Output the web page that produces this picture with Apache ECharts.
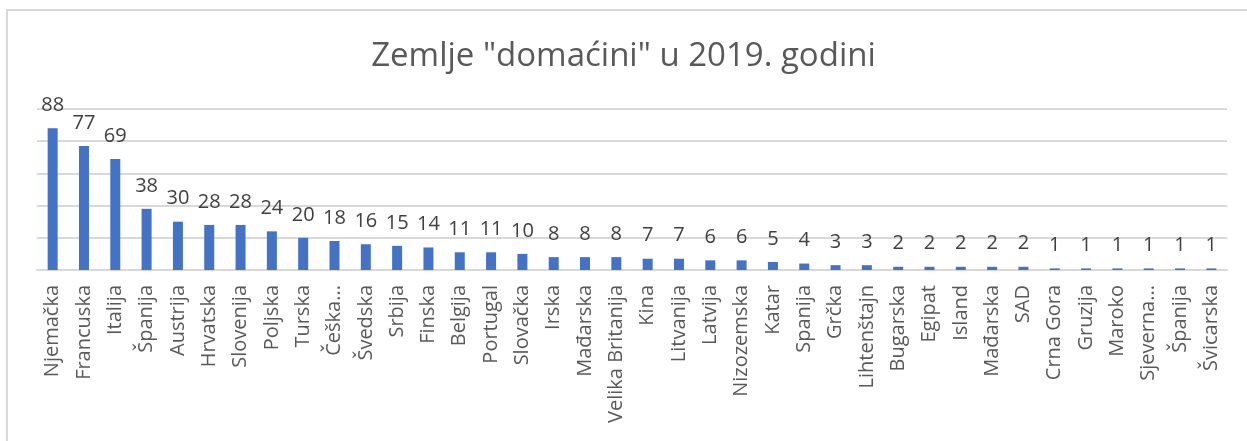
<!DOCTYPE html>
<html>
<head>
<meta charset="utf-8">
<script src="https://cdn.jsdelivr.net/npm/echarts@6/dist/echarts.min.js"></script>
<style>
  html, body { margin: 0; padding: 0; background: #fff; }
  #chart { width: 1247px; height: 441px; }
</style>
</head>
<body>
<div id="chart"></div>
<script>
const titleText = 'Zemlje "domaćini" u 2019. godini';
const countries = [
  "Njemačka", "Francuska", "Italija", "Španija", "Austrija", "Hrvatska", "Slovenija",
  "Poljska", "Turska", "Češka...", "Švedska", "Srbija", "Finska", "Belgija", "Portugal",
  "Slovačka", "Irska", "Mađarska", "Velika Britanija", "Kina", "Litvanija", "Latvija",
  "Nizozemska", "Katar", "Spanija", "Grčka", "Lihtenštajn", "Bugarska", "Egipat", "Island",
  "Mađarska", "SAD", "Crna Gora", "Gruzija", "Maroko", "Sjeverna...", "Španija", "Švicarska"
];
const hostCounts = [
  88, 77, 69, 38, 30, 28, 28, 24, 20, 18, 16, 15, 14, 11, 11, 10, 8, 8, 8, 7, 7, 6, 6, 5,
  4, 3, 3, 2, 2, 2, 2, 2, 1, 1, 1, 1, 1, 1
];

const font = "Open Sans";
const chart = echarts.init(document.getElementById("chart"));
chart.setOption({
  animation: false,
  title: {
    text: titleText,
    left: "center",
    top: 35,
    textStyle: { color: "#595959", fontFamily: font, fontSize: 33, fontWeight: "normal" }
  },
  graphic: [{
    type: "polyline",
    shape: { points: [[7, 441], [7, 10], [1247, 10]] },
    style: { stroke: "#d9d9d9", lineWidth: 2, fill: null },
    silent: true
  }],
  grid: { left: 37, right: 20, top: 109, bottom: 171 },
  xAxis: {
    type: "category",
    data: countries,
    axisLine: { lineStyle: { color: "#d9d9d9", width: 2 } },
    axisTick: { show: false },
    axisLabel: {
      interval: 0, rotate: 90, margin: 15,
      color: "#595959", fontFamily: font, fontSize: 20
    }
  },
  yAxis: {
    type: "value",
    min: 0, max: 100, interval: 20,
    axisLabel: { show: false },
    axisLine: { show: false },
    axisTick: { show: false },
    splitLine: { lineStyle: { color: "#d9d9d9", width: 2 } }
  },
  series: [{
    type: "bar",
    data: hostCounts,
    barWidth: 10,
    itemStyle: { color: "#4472C4" },
    label: {
      show: true, position: "top", distance: 13,
      color: "#404040", fontFamily: font, fontSize: 20
    }
  }]
});
</script>
</body>
</html>
